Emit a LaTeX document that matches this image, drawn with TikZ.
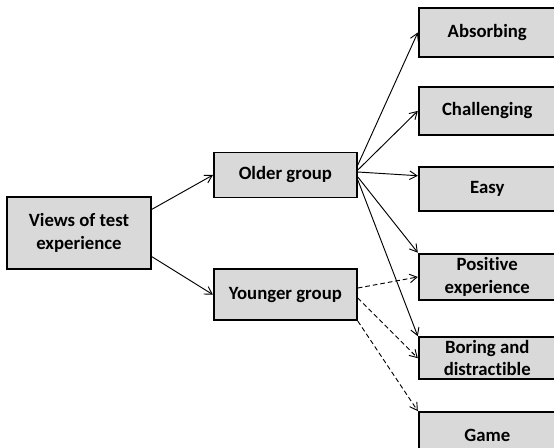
\documentclass[tikz,border=0pt]{standalone}
\usepackage{fontspec}
\setmainfont{Carlito}[Ligatures=NoCommon]
\usetikzlibrary{arrows.meta, positioning}

\begin{document}
\begin{tikzpicture}[node distance=0.9cm and 1.8cm, >={Straight Barb[length=2.2mm, width=2.6mm]},
    box/.style={rectangle, draw=black, line width=1.6pt, fill=black!15, align=center,
        font=\bfseries\fontsize{16}{19}\selectfont, inner sep=0pt},
    grp/.style={box, minimum width=4.29cm, minimum height=1.35cm},
    leaf/.style={box, minimum width=4.11cm, minimum height=1.4cm},
    link/.style={->, line width=0.8pt},
    dlink/.style={->, line width=0.8pt, dash pattern=on 4pt off 2.5pt}]

    \useasboundingbox (-2.37,-6.42) rectangle (14.25,6.99);

    \node (views) [box, minimum width=4.32cm, minimum height=2.16cm] at (0,0) {Views of test\\experience};
    \node (older) [grp, right=1.83cm of views, yshift=1.74cm] {Older group};
    \node (younger) [grp, minimum height=1.53cm, right=1.83cm of views, yshift=-1.85cm] {Younger group};

    %% right column
    \node (absorb) [leaf, minimum height=1.47cm, right=1.8cm of older, yshift=4.275cm] {Absorbing};
    \node (chall) [leaf, minimum height=1.44cm, below=0.84cm of absorb] {Challenging};
    \node (easy) [leaf, minimum height=1.32cm, below=0.9cm of chall] {Easy};
    \node (pos) [leaf, below=1.23cm of easy] {Positive\\experience};
    \node (boring) [leaf, minimum height=1.26cm, below=1.05cm of pos] {Boring and\\distractible};
    \node (game) [leaf, below=0.93cm of boring] {Game};

    \draw[link] (views.18) -- (older.west);
    \draw[link] (views.-18) -- (younger.west);

    %% older group
    \draw[link] ([yshift=0.3cm]older.east) -- (absorb.west);
    \draw[link] ([yshift=0.15cm]older.east) -- (chall.west);
    \draw[link] ([yshift=0.09cm]older.east) -- ([yshift=0.39cm]easy.west);
    \draw[link] ([yshift=-0.06cm]older.east) -- (pos.north west);
    \draw[link] ([yshift=-0.15cm]older.east) -- (boring.north west);

    %% younger group
    \draw[dlink] ([yshift=0.2cm]younger.east) -- (pos.west);
    \draw[dlink] ([yshift=-0.1cm]younger.east) -- (boring.west);
    \draw[dlink] (younger.south east) -- (game.north west);

\end{tikzpicture}
\end{document}
